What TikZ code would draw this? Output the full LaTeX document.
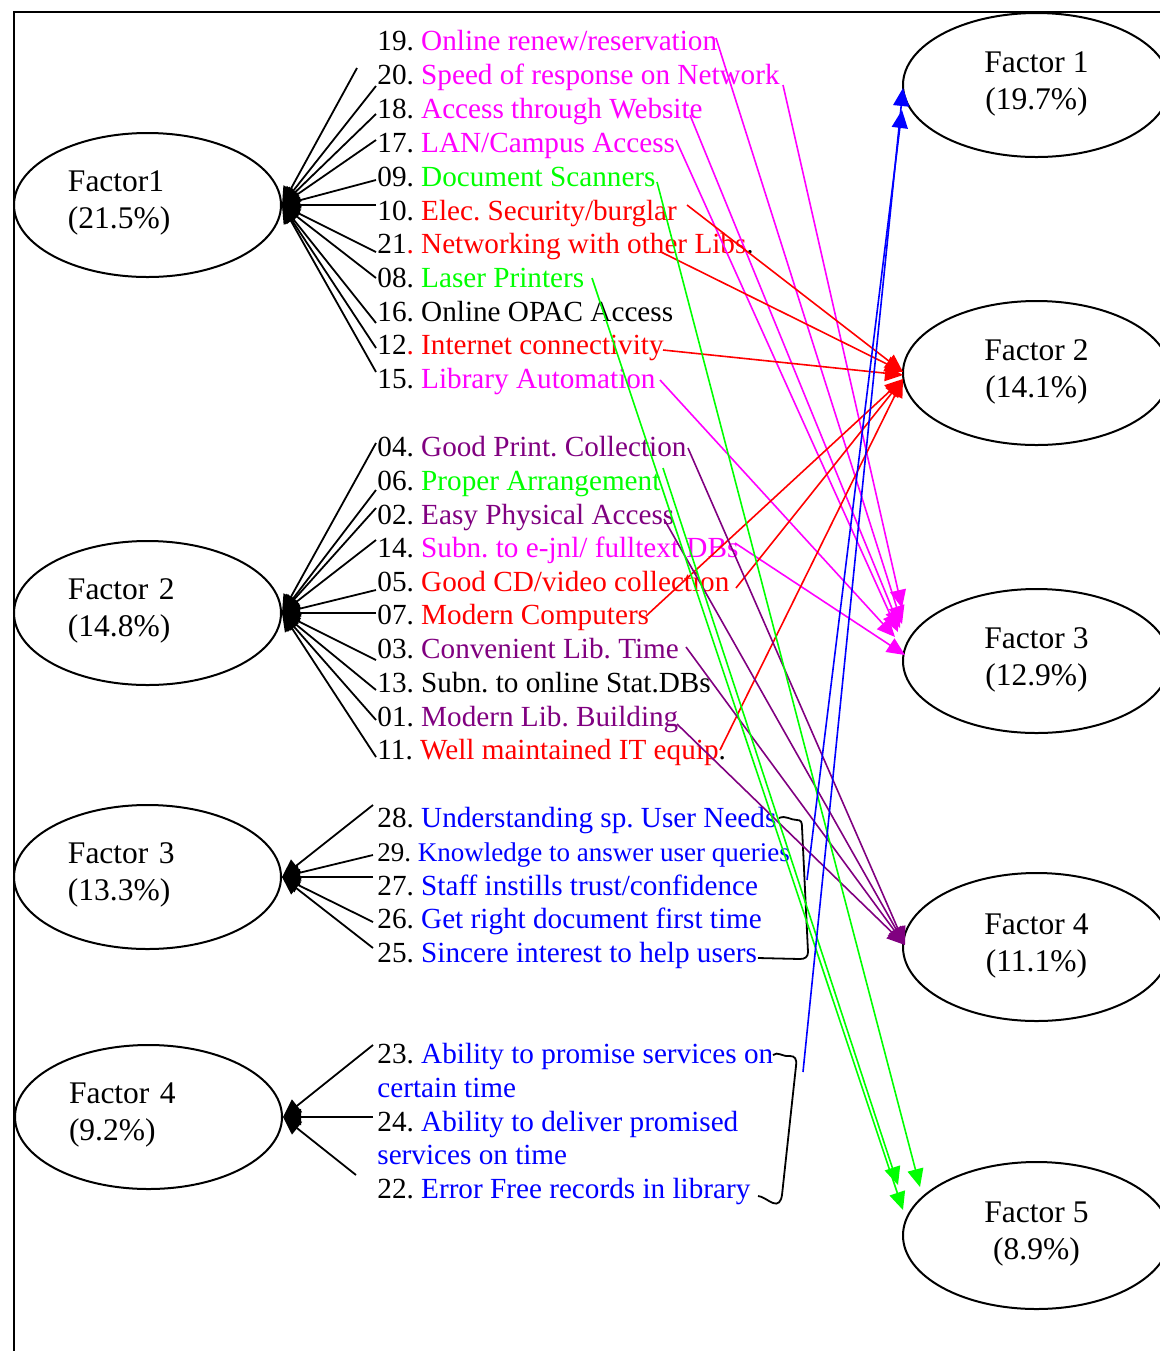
\documentclass[tikz,border=0pt]{standalone}
\usepackage{fontspec}
\setmainfont{Liberation Serif}
\usetikzlibrary{arrows.meta,shapes.geometric}
\definecolor{mag}{RGB}{255,0,255}
\definecolor{grn}{RGB}{0,255,0}
\definecolor{rd}{RGB}{255,0,0}
\definecolor{vio}{RGB}{128,0,128}
\definecolor{blu}{RGB}{0,0,255}
\frenchspacing
\begin{document}
\begin{tikzpicture}[x=0.5pt,y=-0.5pt,
  factor/.style={draw, line width=1pt, ellipse, minimum width=133.5pt,
    minimum height=72pt, inner sep=0pt, font=\fontsize{15.75}{18.5}\selectfont},
  leftfactor/.style={factor, text width=79.5pt, align=left},
  rightfactor/.style={factor, align=center},
  item/.style={anchor=base west, inner sep=0pt, font=\fontsize{14.6}{17}\selectfont},
  smallitem/.style={item, font=\fontsize{13.5}{16}\selectfont},
  load/.style={line width=0.9pt, -{Triangle[length=9pt,width=8pt]}},
  link/.style={line width=0.8pt, -{Triangle[length=9pt,width=8pt]}},
  brace/.style={line width=0.9pt}]
\useasboundingbox (0,0) rectangle (1160,1351);

% frame
\draw[line width=1pt] (14,1351) -- (14,12) -- (1160,12);

% factors of the first set
\node[leftfactor] (F1L) at (147.5,205) {Factor1\\(21.5\%)\vspace*{2pt}};
\node[leftfactor] (F2L) at (147.5,613) {Factor 2\\(14.8\%)\vspace*{2pt}};
\node[leftfactor] (F3L) at (147.5,877) {Factor 3\\(13.3\%)\vspace*{2pt}};
\node[leftfactor] (F4L) at (148.5,1117) {Factor 4\\(9.2\%)\vspace*{2pt}};

% factors of the second set
\node[rightfactor] (F1R) at (1036.5,85) {Factor 1\\(19.7\%)\\[-14pt]\mbox{}};
\node[rightfactor] (F2R) at (1036.5,373) {Factor 2\\(14.1\%)\\[-14pt]\mbox{}};
\node[rightfactor] (F3R) at (1036.5,661) {Factor 3\\(12.9\%)\\[-14pt]\mbox{}};
\node[rightfactor, minimum height=74pt] (F4R) at (1036.5,947) {Factor 4\\(11.1\%)\\[-14pt]\mbox{}};
\node[rightfactor, minimum height=73.5pt] (F5R) at (1036.5,1235.5) {Factor 5\\(8.9\%)\\[-14pt]\mbox{}};

% items, group 1
\node[item] (i19) at (377,50)  {19. \textcolor{mag}{Online renew/reservation}};
\node[item] (i20) at (377,84)  {20. \textcolor{mag}{Speed of response on Network}};
\node[item] (i18) at (377,118) {18. \textcolor{mag}{Access through Website}};
\node[item] (i17) at (377,152) {17. \textcolor{mag}{LAN/Campus Access}};
\node[item] (i09) at (377,186) {09. \textcolor{grn}{Document Scanners}};
\node[item] (i10) at (377,220) {10. \textcolor{rd}{Elec. Security/burglar}};
\node[item] (i21) at (377,253) {21\textcolor{rd}{. Networking with other Libs}.};
\node[item] (i08) at (377,287) {08. \textcolor{grn}{Laser Printers}};
\node[item] (i16) at (377,321) {16. Online OPAC Access};
\node[item] (i12) at (377,354) {12\textcolor{rd}{. Internet connectivity}};
\node[item] (i15) at (377,388) {15. \textcolor{mag}{Library Automation}};

% items, group 2
\node[item] (i04) at (377,456) {04. \textcolor{vio}{Good Print. Collection}};
\node[item] (i06) at (377,490) {06. \textcolor{grn}{Proper Arrangement}};
\node[item] (i02) at (377,524) {02. \textcolor{vio}{Easy Physical Access}};
\node[item] (i14) at (377,557) {14. \textcolor{mag}{Subn. to e-jnl/ fulltext DBs}};
\node[item] (i05) at (377,591) {05. \textcolor{rd}{Good CD/video collection}};
\node[item] (i07) at (377,624) {07. \textcolor{rd}{Modern Computers}};
\node[item] (i03) at (377,658) {03. \textcolor{vio}{Convenient Lib. Time}};
\node[item] (i13) at (377,692) {13. Subn. to online Stat.DBs};
\node[item] (i01) at (377,726) {01. \textcolor{vio}{Modern Lib. Building}};
\node[item] (i11) at (377,759) {11. \textcolor{rd}{Well maintained IT equip}.};

% items, group 3
\node[item] (i28) at (377,827) {28. \textcolor{blu}{Understanding sp. User Needs}};
\node[smallitem] (i29) at (377,861) {29. \textcolor{blu}{Knowledge to answer user queries}};
\node[item] (i27) at (377,895) {27. \textcolor{blu}{Staff instills trust/confidence}};
\node[item] (i26) at (377,928) {26. \textcolor{blu}{Get right document first time}};
\node[item] (i25) at (377,962) {25. \textcolor{blu}{Sincere interest to help users}};

% items, group 4
\node[item] (i23)  at (377,1063) {23. \textcolor{blu}{Ability to promise services on}};
\node[item] (i23b) at (377,1097) {\textcolor{blu}{certain time}};
\node[item] (i24)  at (377,1131) {24. \textcolor{blu}{Ability to deliver promised}};
\node[item] (i24b) at (377,1164) {\textcolor{blu}{services on time}};
\node[item] (i22)  at (377,1198) {22. \textcolor{blu}{Error Free records in library}};

% loading lines: item ends
\coordinate (k0)  at (357,68);
\coordinate (k20) at (376,86);
\coordinate (k18) at (376,114);
\coordinate (k17) at (376,140);
\coordinate (k09) at (376,180);
\coordinate (k10) at (376,205);
\coordinate (k21) at (376,252);
\coordinate (k08) at (376,278);
\coordinate (k16) at (376,323);
\coordinate (k12) at (376,348);
\coordinate (k15) at (376,372);
\coordinate (k04) at (376,443);
\coordinate (k06) at (376,490);
\coordinate (k02) at (376,508);
\coordinate (k14) at (376,540);
\coordinate (k05) at (376,590);
\coordinate (k07) at (376,613);
\coordinate (k03) at (376,660);
\coordinate (k13) at (376,690);
\coordinate (k01) at (376,720);
\coordinate (k11) at (376,757);
\coordinate (k28) at (373,805);
\coordinate (k29) at (373,855);
\coordinate (k27) at (373,877);
\coordinate (k26) at (373,922);
\coordinate (k25) at (373,948);
\coordinate (k23) at (373,1045);
\coordinate (k24) at (373,1117);
\coordinate (k22) at (356,1175);

\foreach \k in {k0,k20,k18,k17,k09,k10,k21,k08,k16,k12,k15}
  \draw[load] (\k) -- (F1L.east);
\foreach \k in {k04,k06,k02,k14,k05,k07,k03,k13,k01,k11}
  \draw[load] (\k) -- (F2L.east);
\foreach \k in {k28,k29,k27,k26,k25}
  \draw[load] (\k) -- (F3L.east);
\foreach \k in {k23,k24,k22}
  \draw[load] (\k) -- (F4L.east);

% grouping braces
\draw[brace] (779,818) .. controls (786,815) and (790,820) .. (797,820)
  .. controls (801,820) and (802,822) .. (802,827) -- (808,952)
  .. controls (808,957) and (805,959) .. (800,959) -- (758,958);
\draw[brace] (773,1055) .. controls (778,1051) and (782,1057) .. (790,1056)
  .. controls (795,1056) and (797,1059) .. (796,1066) -- (782,1195)
  .. controls (781,1202) and (778,1205) .. (773,1203)
  .. controls (768,1201) and (762,1196) .. (758,1196);

% link starts
\coordinate (o19) at (716,38);
\coordinate (o20) at (783,85);
\coordinate (o18) at (690,115);
\coordinate (o17) at (676,140);
\coordinate (o09) at (657,182);
\coordinate (o10) at (687,205);
\coordinate (o21) at (661,252);
\coordinate (o08) at (592,278);
\coordinate (o12) at (663,350);
\coordinate (o15) at (660,380);
\coordinate (o04) at (688,448);
\coordinate (o06) at (663,468);
\coordinate (o02) at (664,519);
\coordinate (o14) at (735,543);
\coordinate (o05) at (736,588);
\coordinate (o07) at (646,616);
\coordinate (o03) at (686,647);
\coordinate (o01) at (677,724);
\coordinate (o11) at (720,750);
\coordinate (b1)  at (807,880);
\coordinate (b2)  at (803,1072);

% link tips
\coordinate (t1a) at (903,88);
\coordinate (t1b) at (902,110);
\coordinate (t2a) at (903,372);
\coordinate (t2b) at (903,375);
\coordinate (t2c) at (903,379);
\coordinate (t3a) at (902,608);
\coordinate (t3b) at (902,624);
\coordinate (t3c) at (900,628);
\coordinate (t3d) at (898,632);
\coordinate (t3e) at (895,637);
\coordinate (t3f) at (905,655);
\coordinate (t4)  at (905,945);
\coordinate (t5a) at (898,1185);
\coordinate (t5b) at (920,1187);
\coordinate (t5c) at (903,1210);

% links to the second set of factors
\draw[link,mag] (o20) -- (t3a);
\draw[link,mag] (o19) -- (t3b);
\draw[link,mag] (o18) -- (t3c);
\draw[link,mag] (o17) -- (t3d);
\draw[link,mag] (o15) -- (t3e);
\draw[link,mag] (o14) -- (t3f);
\draw[link,rd] (o10) -- (t2a);
\draw[link,rd] (o21) -- (t2a);
\draw[link,rd] (o12) -- (t2b);
\draw[link,rd] (o05) -- (t2c);
\draw[link,rd] (o07) -- (t2c);
\draw[link,rd] (o11) -- (t2c);
\draw[link,vio] (o04) -- (t4);
\draw[link,vio] (o02) -- (t4);
\draw[link,vio] (o03) -- (t4);
\draw[link,vio] (o01) -- (t4);
\draw[link,grn] (o06) -- (t5a);
\draw[link,grn] (o09) -- (t5b);
\draw[link,grn] (o08) -- (t5c);
\draw[link,blu] (b2) -- (t1a);
\draw[link,blu] (b1) -- (t1b);
\end{tikzpicture}
\end{document}
